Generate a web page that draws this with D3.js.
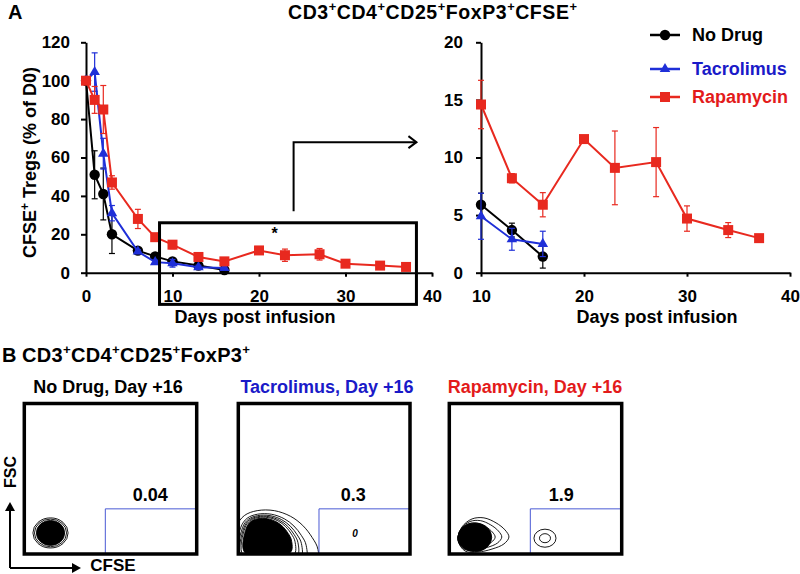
<!DOCTYPE html>
<html><head><meta charset="utf-8">
<script src="https://cdn.jsdelivr.net/npm/d3@7"></script>
<style>body{margin:0;background:#fff} svg{display:block} text{font-family:"Liberation Sans",Arial,Helvetica,sans-serif;font-weight:bold}</style>
</head><body><svg id="c" width="800" height="574"></svg>
<script>
// ---------- data ----------
const days = [0,1,2,3,6,8,10,13,16];
const rapaDays = [0,1,2,3,6,8,10,13,16,20,23,27,30,34,37];
const noDrug = [100,51,41,20,11.5,8.5,5.9,3.7,1.4];
const noDrugErr = [0,12.5,13.5,10,1.5,1.5,1.0,0.6,1.0];
const tacro = [100,104.5,62,31,11,5.5,4.9,2.9,2.5];
const tacroErr = [0,10,8,4,1,1,2,0.95,1.1];
const rapa = [100,90,85,47,28,18.5,14.6,8.2,5.9,11.6,9.1,9.6,4.7,3.7,3.0];
const rapaErr = [0,7,12.5,3.5,5,1.5,2.1,0.4,1.05,0.3,3.2,3.0,1.1,0.65,0.2];
const yTicksMain = [0,20,40,60,80,100,120];
const yTicksZoom = [0,5,10,15,20];
const xTicksMain = [0,10,20,30,40];
const xTicksZoom = [10,20,30,40];
const seriesNames = ["No Drug","Tacrolimus","Rapamycin"];
const flowTitles = ["No Drug, Day +16","Tacrolimus, Day +16","Rapamycin, Day +16"];
const flowPct = ["0.04","0.3","1.9"];
const gateCFSE = 47, gateFSC = 30;
// flow contour data in plot units (CFSE 0-100, FSC 0-100)
const ndRings = [[15.2,14,10.2,10.0],[15.2,14,9.3,9.2]];
const ndCore = [15.2,14,8.2,8.3];
const tacOuter = [[-1.3,17.5],[3.5,25.5],[11,28.8],[21,28.8],[30.5,25],[37.5,19],[43,11],[46.4,3],[45.3,-12],[-3,-12]];
const tacRingScale = [1,0.8,0.72,0.66,0.61];
const tacCoreScale = 0.55;
const rapOuter = [[5.0,9.3],[7.4,18],[13.2,23.3],[20.1,24],[27.1,20.7],[32.3,16],[34.6,11.3],[31.7,6.7],[24.8,3.3],[16.6,1.3],[9.1,2]];
const rapRingScale = [1,0.86,0.73];
const rapCore = [14.8,11.1,9.8,9.5];
const rapSmall = [[55.5,10.5,6.4,6.0],[55.5,10.5,3.2,3.0]];

// ---------- setup ----------
const svg = d3.select("#c");
const series = [
 {name:seriesNames[0], days:days, vals:noDrug, err:noDrugErr, color:"#000", sym:d3.symbolCircle, size:85, text:"#000"},
 {name:seriesNames[1], days:days, vals:tacro, err:tacroErr, color:"#1f2fd8", sym:d3.symbolTriangle, size:48, text:"#1a1ac8"},
 {name:seriesNames[2], days:rapaDays, vals:rapa, err:rapaErr, color:"#e8291f", sym:d3.symbolSquare, size:100, text:"#e31b1b"}
];

function supText(parent, x, yc, parts, size, anchor, color, len){
  const t = parent.append("text").attr("x",x).attr("y",yc+0.35*size).attr("font-size",size)
    .attr("text-anchor",anchor).attr("fill",color||"#000");
  let shifted=false;
  parts.forEach(p=>{
    if(p.startsWith("^")){ t.append("tspan").attr("font-size",size*0.66).attr("dy", shifted?0:-size*0.38).text(p.slice(1)); shifted=true;}
    else { t.append("tspan").attr("dy", shifted? size*0.38:0).text(p); shifted=false;}
  });
  if(len) t.attr("textLength",len).attr("lengthAdjust","spacing");
  return t;
}

function drawAxes(g,x,y,xt,yt,ypad){
  const ax = g.append("g").attr("transform",`translate(0,${y.range()[0]})`)
    .call(d3.axisBottom(x).tickValues(xt).tickSize(4).tickSizeOuter(0).tickPadding(13));
  const ay = g.append("g").attr("transform",`translate(${x.range()[0]},0)`)
    .call(d3.axisLeft(y).tickValues(yt).tickSize(5).tickSizeOuter(0).tickPadding(ypad));
  [ax,ay].forEach(a=>{
    a.attr("font-family",null).attr("font-size",null);
    a.select(".domain").attr("stroke-width",2).attr("stroke","#000");
    a.selectAll(".tick line").attr("stroke-width",2).attr("stroke","#000");
    a.selectAll("text").attr("font-size",17).attr("font-weight","bold").attr("fill","#000");
  });
}

function drawSeries(g,x,y,minDay){
  series.forEach(s=>{
    const pts = s.days.map((d,i)=>({d:d,v:s.vals[i],e:s.err[i]})).filter(p=>p.d>=minDay);
    const eb = g.append("g").attr("stroke",s.color).attr("stroke-width",1.2);
    pts.filter(p=>p.e>0).forEach(p=>{
      eb.append("line").attr("x1",x(p.d)).attr("x2",x(p.d)).attr("y1",y(p.v-p.e)).attr("y2",y(p.v+p.e));
      [p.v-p.e,p.v+p.e].forEach(v=>eb.append("line").attr("x1",x(p.d)-3).attr("x2",x(p.d)+3).attr("y1",y(v)).attr("y2",y(v)));
    });
    g.append("path").datum(pts).attr("fill","none").attr("stroke",s.color).attr("stroke-width",2)
      .attr("d",d3.line().x(p=>x(p.d)).y(p=>y(p.v)));
    g.selectAll(null).data(pts).enter().append("path")
      .attr("transform",p=>`translate(${x(p.d)},${y(p.v)})`)
      .attr("d",d3.symbol().type(s.sym).size(s.size)).attr("fill",s.color);
  });
}

// ---------- panel A ----------
svg.append("text").attr("x",8).attr("y",19).attr("font-size",20).text("A");
supText(svg,432.5,12,["CD3","^+","CD4","^+","CD25","^+","FoxP3","^+","CFSE","^+"],19.5,"middle","#000",289);

const xM = d3.scaleLinear([0,40],[86,432]);
const yM = d3.scaleLinear([0,120],[272.7,42.3]);
const gM = svg.append("g");
drawAxes(gM,xM,yM,xTicksMain,yTicksMain,11);
drawSeries(gM,xM,yM,0);
supText(gM.append("g").attr("transform","translate(30,162.5) rotate(-90)"),0,0,["CFSE","^+"," Tregs (% of D0)"],18,"middle");
gM.append("text").attr("x",255).attr("y",317+6.3).attr("font-size",18).attr("text-anchor","middle").text("Days post infusion");
// zoom box + arrow
gM.append("rect").attr("x",xM(8.5)).attr("y",yM(26)).attr("width",xM(38.2)-xM(8.5)).attr("height",yM(-16.5)-yM(26))
  .attr("fill","none").attr("stroke","#000").attr("stroke-width",3);
gM.append("path").attr("d",`M${xM(24)},${yM(32)}V${yM(68)}H${xM(38.2)}`).attr("fill","none").attr("stroke","#000").attr("stroke-width",2);
gM.append("path").attr("d",`M${xM(38.2)-8},${yM(68)-6}L${xM(38.2)},${yM(68)}L${xM(38.2)-8},${yM(68)+6}`).attr("fill","none").attr("stroke","#000").attr("stroke-width",2);
gM.append("text").attr("x",xM(21.8)).attr("y",yM(20)+5).attr("font-size",16).attr("text-anchor","middle").text("*");

const xZ = d3.scaleLinear([10,40],[481,790]);
const yZ = d3.scaleLinear([0,20],[272.7,42.3]);
const gZ = svg.append("g");
drawAxes(gZ,xZ,yZ,xTicksZoom,yTicksZoom,13);
drawSeries(gZ,xZ,yZ,10);
gZ.append("text").attr("x",657).attr("y",317+6.3).attr("font-size",18).attr("text-anchor","middle").text("Days post infusion");

// legend
const legY = [35,69,97];
series.forEach((s,i)=>{
  const lg = svg.append("g").attr("transform",`translate(650,${legY[i]})`);
  lg.append("line").attr("x1",0).attr("x2",30).attr("stroke",s.color).attr("stroke-width",2.5);
  lg.append("path").attr("transform","translate(15,0)").attr("d",d3.symbol().type(s.sym).size(s.size)).attr("fill",s.color);
  lg.append("text").attr("x",42).attr("y",6.3).attr("font-size",18).attr("fill",s.text).text(s.name);
});

// ---------- panel B ----------
svg.append("text").attr("x",2).attr("y",355+7).attr("font-size",20).text("B");
supText(svg,22,355,["CD3","^+","CD4","^+","CD25","^+","FoxP3","^+"],20,"start","#000",228);

const boxes = [[24.3,196.7],[238.3,410],[449.3,621.7]];
const boxTop = 403.5, boxBot = 554;
const titleX = [108,327,535];
const pctX = [73,67,65];
const line = d3.line().curve(d3.curveCatmullRomClosed);
function scalePts(pts,k,ax,ay){ return pts.map(p=>[ax+k*(p[0]-ax), ay+k*(p[1]-ay)]); }

boxes.forEach((b,i)=>{
  const xs = d3.scaleLinear([0,100],[b[0],b[1]]);
  const ys = d3.scaleLinear([0,100],[boxBot,boxTop]);
  const g = svg.append("g");
  g.append("text").attr("x",titleX[i]).attr("y",387+6.3).attr("font-size",18).attr("text-anchor","middle")
    .attr("fill",series[i].text).text(flowTitles[i]);
  const cid = "clip"+i;
  g.append("clipPath").attr("id",cid).append("rect").attr("x",b[0]).attr("y",boxTop).attr("width",b[1]-b[0]).attr("height",boxBot-boxTop);
  const c = g.append("g").attr("clip-path",`url(#${cid})`);
  const rx = v=>xs(v)-xs(0), ry = v=>ys(0)-ys(v);
  const ell = (e,fill)=>c.append("ellipse").attr("cx",xs(e[0])).attr("cy",ys(e[1])).attr("rx",rx(e[2])).attr("ry",ry(e[3]))
      .attr("fill",fill?"#000":"none").attr("stroke","#000").attr("stroke-width",0.9);
  const poly = (pts,fill)=>c.append("path").attr("d",line(pts.map(p=>[xs(p[0]),ys(p[1])])))
      .attr("fill",fill?"#000":"none").attr("stroke","#000").attr("stroke-width",0.9);
  if(i===0){ ndRings.forEach(e=>ell(e,false)); ell(ndCore,true); }
  if(i===1){ tacRingScale.forEach(k=>poly(scalePts(tacOuter,k,12,17),false)); poly(scalePts(tacOuter,tacCoreScale,12,17),true);
    g.append("text").attr("x",xs(68)).attr("y",ys(13.3)+3.5).attr("font-size",10).attr("font-weight","normal")
      .attr("font-style","italic").attr("text-anchor","middle").text("0"); }
  if(i===2){ rapRingScale.forEach(k=>poly(scalePts(rapOuter,k,5,11),false)); ell(rapCore,true); rapSmall.forEach(e=>ell(e,false)); }
  // gate
  g.append("path").attr("d",`M${xs(gateCFSE)},${ys(0)}V${ys(gateFSC)}H${xs(100)}`).attr("fill","none")
    .attr("stroke","#4a5ad4").attr("stroke-width",1);
  g.append("text").attr("x",xs(pctX[i])).attr("y",495+6.3).attr("font-size",18).attr("text-anchor","middle").text(flowPct[i]);
  g.append("rect").attr("x",b[0]).attr("y",boxTop).attr("width",b[1]-b[0]).attr("height",boxBot-boxTop)
    .attr("fill","none").attr("stroke","#000").attr("stroke-width",3.5);
});
// FSC / CFSE arrows
const ag = svg.append("g");
ag.append("path").attr("d","M10,568V509M10,568H74").attr("fill","none").attr("stroke","#000").attr("stroke-width",2);
ag.append("path").attr("d","M10,502L5,511L15,511Z").attr("fill","#000");
ag.append("path").attr("d","M81,568L72,563L72,573Z").attr("fill","#000");
ag.append("g").attr("transform","translate(10,472) rotate(-90)").append("text").attr("x",0).attr("y",5.6)
  .attr("font-size",16).attr("text-anchor","middle").text("FSC");
svg.append("text").attr("x",113).attr("y",565+6).attr("font-size",17).attr("text-anchor","middle").text("CFSE");
</script></body></html>
